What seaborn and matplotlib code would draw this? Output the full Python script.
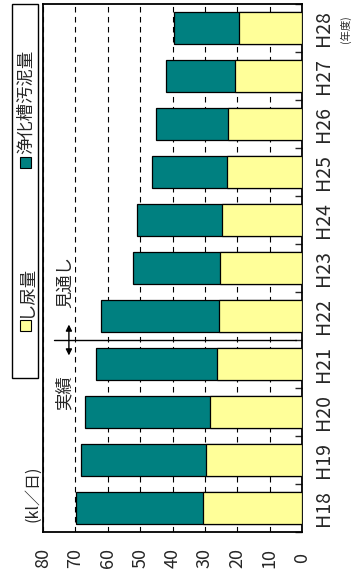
import numpy as np
import pandas as pd
import matplotlib
matplotlib.use('Agg')
import matplotlib.pyplot as plt
from matplotlib.patches import Rectangle
import seaborn as sns

## ============================== ##

years = ['H18', 'H19', 'H20', 'H21', 'H22', 'H23', 'H24', 'H25', 'H26', 'H27', 'H28']
shinyo = [30.5, 29.7, 28.4, 26.4, 25.6, 25.2, 24.8, 23.3, 22.8, 20.8, 19.4]   # し尿量
jokaso = [39.3, 38.6, 38.6, 37.1, 36.4, 26.9, 26.1, 22.9, 22.2, 21.1, 20.0]   # 浄化槽汚泥量
value_ticks = [0, 10, 20, 30, 40, 50, 60, 70, 80]

label_shinyo = 'し尿量'
label_jokaso = '浄化槽汚泥量'
unit_label = '(kl／日)'
year_label = '(年度)'
past_label = '実績'
future_label = '見通し'

TEAL = '#008080'
YELLOW = '#FFFF99'

## ============================== ##

sns.set_style('white')
plt.rcParams['font.family'] = ['Noto Sans CJK JP', 'DejaVu Sans']

df = pd.DataFrame({'year': years, 'shinyo': shinyo, 'jokaso': jokaso})
df['total'] = df['shinyo'] + df['jokaso']
order = years[::-1]   # H28 at top, H18 at bottom

W, H = 355, 570
fig = plt.figure(figsize=(W / 100., H / 100.), dpi=100)
ax = fig.add_axes([43. / W, 1. - 532. / H, (302. - 43.) / W, (532. - 4.) / H])

def px(x, y):
	return (x / W, 1. - y / H)

sns.barplot(data=df, x='total', y='year', order=order, orient='h', color=TEAL,
		saturation=1, width=0.65, edgecolor='black', linewidth=0.9, ax=ax, zorder=2)
sns.barplot(data=df, x='shinyo', y='year', order=order, orient='h', color=YELLOW,
		saturation=1, width=0.65, edgecolor='black', linewidth=0.9, ax=ax, zorder=3)

ax.set_xlim(80, 0)
ax.set_ylim(10.5, -0.5)
ax.set_xlabel('')
ax.set_ylabel('')

ax.set_xticks(value_ticks)
ax.set_xticklabels([str(v) for v in value_ticks], rotation=90, fontsize=13, va='center', ha='center')
ax.tick_params(axis='x', direction='in', length=6, width=1, pad=19)

ax.yaxis.tick_right()
ax.set_yticks(range(len(order)))
ax.set_yticklabels(order, rotation=90, fontsize=14, va='center', ha='left')
ax.tick_params(axis='y', which='major', length=0, pad=8)
ax.set_yticks(np.arange(-0.5, len(order), 1.), minor=True)
ax.tick_params(axis='y', which='minor', direction='in', length=5, width=1, right=True, left=False)

ax.grid(axis='x', color='black', linestyle=(0, (5, 4)), linewidth=0.8)
ax.grid(axis='y', visible=False)
ax.set_axisbelow(True)
for s in ax.spines.values():
	s.set_linewidth(1.3)
	s.set_color('black')

## divider between actual and projection
split = order.index('H21') - 0.5
ax.plot([76.6, 1.9], [split, split], color='black', lw=1.0, zorder=4)
ax.annotate('', xy=(72., split - 0.38), xytext=(72., split + 0.38),
		arrowprops=dict(arrowstyle='<|-|>', color='black', lw=1.0, mutation_scale=9), zorder=4)
ax.text(73.2, split - 1.2, future_label, rotation=90, ha='center', va='center', fontsize=12.5,
		bbox=dict(facecolor='white', edgecolor='none', pad=1), zorder=4)
ax.text(73.2, split + 1.1, past_label, rotation=90, ha='center', va='center', fontsize=12.5,
		bbox=dict(facecolor='white', edgecolor='none', pad=1), zorder=4)

## legend box (rotated, outside the axes)
x0, y0 = px(12, 378)
x1, y1 = px(38, 4)
fig.patches.append(Rectangle((x0, y0), x1 - x0, y1 - y0, transform=fig.transFigure,
		facecolor='white', edgecolor='black', lw=1.0))
for sq_top, color, label in [(320, YELLOW, label_shinyo), (157, TEAL, label_jokaso)]:
	sx, sy = px(20, sq_top + 11)
	fig.patches.append(Rectangle((sx, sy), 11. / W, 11. / H, transform=fig.transFigure,
			facecolor=color, edgecolor='black', lw=0.8))
	tx, ty = px(26, sq_top - 3)
	fig.text(tx, ty, label, rotation=90, ha='center', va='bottom', fontsize=12.5)

tx, ty = px(33, 494)
fig.text(tx, ty, unit_label, rotation=90, ha='center', va='center', fontsize=11.5)
tx, ty = px(345, 29)
fig.text(tx, ty, year_label, rotation=90, ha='center', va='center', fontsize=7.5)

fig.savefig('out.png', dpi=100)
